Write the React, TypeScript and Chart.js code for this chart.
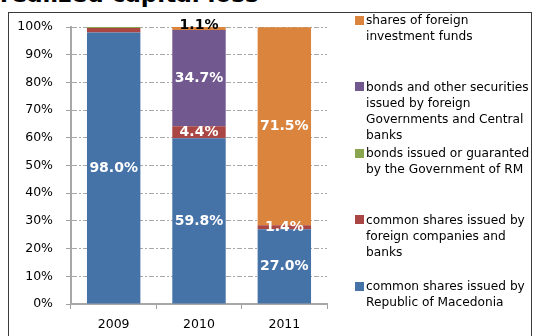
import React, { useEffect, useRef } from "react";
import { Chart, registerables } from "chart.js";
Chart.register(...registerables);

const titleText = "realized capital loss";
const categories = ["2009", "2010", "2011"];
const seriesNames = [
  "common shares issued by\nRepublic of Macedonia",
  "common shares issued by\nforeign companies and\nbanks",
  "bonds issued or guaranted\nby the Government of RM",
  "bonds and other securities\nissued by foreign\nGovernments and Central\nbanks",
  "shares of foreign\ninvestment funds",
];
const seriesColors = ["#4572A7", "#AA4643", "#89A54E", "#71588F", "#DB843D"];
const rmShares = [98.0, 59.8, 27.0];
const foreignShares = [1.6, 4.4, 1.4];
const rmBonds = [0.4, 0, 0];
const foreignBonds = [0, 34.7, 0];
const fundShares = [0, 1.1, 71.5];
const seriesValues = [rmShares, foreignShares, rmBonds, foreignBonds, fundShares];
// segments without a value label: [series, category]
const unlabelled = [[1, 0]];
// labels drawn in black above the bar: [series, category]
const darkLabels = [[4, 1]];

const FONT = '"DejaVu Sans", Verdana, sans-serif';

const labelPlugin = {
  id: "segLabels",
  afterDatasetsDraw(chart: any) {
    const ctx = chart.ctx;
    ctx.save();
    ctx.font = `bold 14px ${FONT}`;
    ctx.textAlign = "center";
    ctx.textBaseline = "middle";
    chart.data.datasets.forEach((ds: any, di: number) => {
      const meta = chart.getDatasetMeta(di);
      meta.data.forEach((bar: any, i: number) => {
        const v = ds.data[i];
        if (!v || v < 1) return;
        if (unlabelled.some(([d, c]) => d === di && c === i)) return;
        const p = bar.getProps(["x", "y", "base"], true);
        const dark = darkLabels.some(([d, c]) => d === di && c === i);
        const y = (p.y + p.base) / 2 + (dark ? -3 : 0);
        ctx.fillStyle = dark ? "#000000" : "#ffffff";
        ctx.fillText(v.toFixed(1) + "%", p.x, y);
      });
    });
    ctx.restore();
  },
};

export default function App() {
  const ref = useRef<HTMLCanvasElement>(null);
  useEffect(() => {
    if (!ref.current) return;
    const chart = new Chart(ref.current, {
      type: "bar",
      data: {
        labels: categories,
        datasets: seriesValues.map((vals, i) => ({
          label: seriesNames[i],
          data: vals,
          backgroundColor: seriesColors[i],
          borderWidth: 0,
          categoryPercentage: 1,
          barPercentage: 0.626,
        })),
      },
      options: {
        responsive: false,
        animation: false,
        events: [],
        layout: { padding: { left: 0, right: 206, top: 27, bottom: 0 } },
        plugins: { legend: { display: false }, tooltip: { enabled: false }, title: { display: false } },
        scales: {
          x: {
            stacked: true,
            afterFit: (s: any) => { s.height = 32; },
            grid: { display: true, drawOnChartArea: false, drawTicks: true, tickLength: 5, offset: true, color: "#a0a0a0", lineWidth: 1 },
            border: { display: true, color: "#a8a8a8", width: 2 },
            ticks: { color: "#000", font: { family: FONT, size: 12.5 }, padding: 8 },
          },
          y: {
            stacked: true,
            min: 0,
            max: 100,
            afterFit: (s: any) => { s.width = 71; },
            grid: { color: "#a8a8a8", lineWidth: 1, tickLength: 5, tickColor: "#a0a0a0" },
            border: { display: true, color: "#a8a8a8", width: 2, dash: [5, 2, 2, 2] },
            ticks: {
              stepSize: 10,
              color: "#000",
              font: { family: FONT, size: 12.5 },
              padding: 13,
              callback: (v: any) => v + "%",
            },
          },
        },
      },
      plugins: [labelPlugin],
    });
    return () => chart.destroy();
  }, []);

  const order = [4, 3, 2, 1, 0];
  return (
    <div style={{ position: "fixed", left: 0, top: 0, width: 533, height: 336, overflow: "hidden", background: "#fff" }}>
      <div
        style={{
          position: "absolute", left: 0, top: -18, fontFamily: FONT, fontWeight: "bold",
          fontSize: 23, lineHeight: "24px", color: "#000", whiteSpace: "nowrap",
        }}
      >
        {titleText}
      </div>
      <div
        style={{
          position: "absolute", left: 8, top: 12, width: 524, height: 400,
          boxSizing: "border-box", border: "1px solid #3a3a3a",
        }}
      />
      <canvas ref={ref} width={533} height={336} style={{ position: "absolute", left: 0, top: 0 }} />
      {order.map((si, k) => {
        const cy = 20 + 66.5 * k;
        return (
          <React.Fragment key={si}>
            <div
              style={{
                position: "absolute", left: 355, top: cy - 4.5, width: 9, height: 9,
                background: seriesColors[si],
              }}
            />
            <div
              style={{
                position: "absolute", left: 366, top: cy - 8, fontFamily: FONT, fontSize: 12.2,
                lineHeight: "16.2px", color: "#000", whiteSpace: "pre",
              }}
            >
              {seriesNames[si]}
            </div>
          </React.Fragment>
        );
      })}
    </div>
  );
}
